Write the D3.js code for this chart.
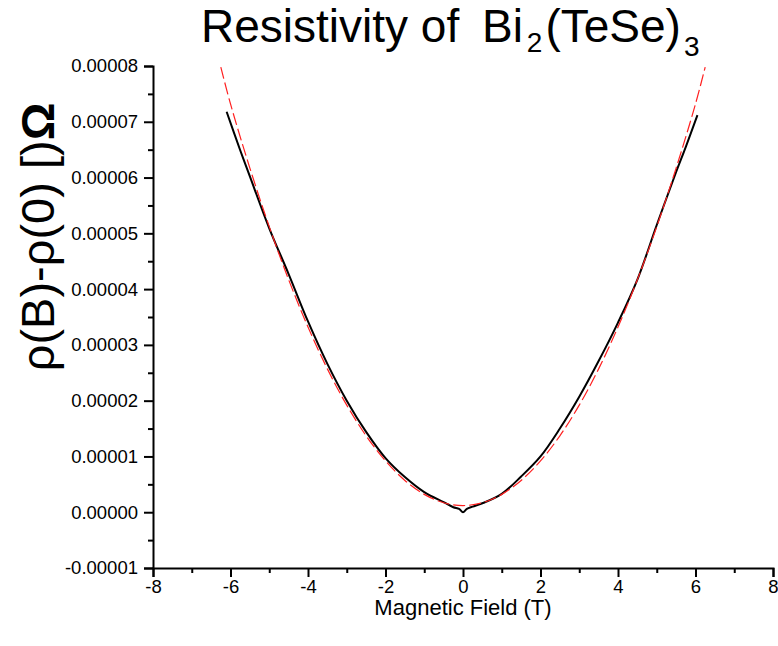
<!DOCTYPE html>
<html>
<head>
<meta charset="utf-8">
<script src="https://cdn.jsdelivr.net/npm/d3@7/dist/d3.min.js"></script>
<style>
  body { margin: 0; background: #fff; }
  text { font-family: "Liberation Sans", Arial, sans-serif; fill: #000; }
</style>
</head>
<body>
<div id="chart-area"></div>
<script>
// measured resistivity (black) : field in T, rho(B)-rho(0) in Ohm
var fieldB = [-6.1, -5.75, -5.5, -5.0, -4.5, -4.0, -3.5, -3.0, -2.5, -2.0, -1.5, -1.0, -0.5, -0.25, -0.1, 0,
              0.1, 0.25, 0.5, 1.0, 1.5, 2.0, 2.5, 3.0, 3.5, 4.0, 4.5, 5.0, 5.5, 5.75, 6.05];
var rhoB = [7.18e-5, 6.49e-5, 6.02e-5, 5.09e-5, 4.27e-5, 3.42e-5, 2.66e-5, 2.00e-5, 1.44e-5, 0.97e-5, 0.63e-5, 0.36e-5, 0.18e-5, 0.09e-5, 0.06e-5, 0.0,
            0.06e-5, 0.10e-5, 0.16e-5, 0.33e-5, 0.64e-5, 1.00e-5, 1.50e-5, 2.07e-5, 2.71e-5, 3.40e-5, 4.17e-5, 5.15e-5, 6.10e-5, 6.55e-5, 7.12e-5];

// fitted curve (red dashed)
var fitB = [-6.25, -6.0, -5.5, -5.0, -4.5, -4.0, -3.5, -3.0, -2.5, -2.0, -1.5, -1.0, -0.5, 0,
            0.5, 1.0, 1.5, 2.0, 2.5, 3.0, 3.5, 4.0, 4.5, 5.0, 5.5, 6.0, 6.25];
var fitRho = [7.98e-5, 7.32e-5, 6.17e-5, 5.12e-5, 4.17e-5, 3.32e-5, 2.57e-5, 1.92e-5, 1.37e-5, 0.92e-5, 0.57e-5, 0.32e-5, 0.17e-5, 0.12e-5,
              0.17e-5, 0.32e-5, 0.57e-5, 0.92e-5, 1.37e-5, 1.92e-5, 2.57e-5, 3.32e-5, 4.17e-5, 5.12e-5, 6.17e-5, 7.32e-5, 7.98e-5];

// ticks
var xTicks = [-8, -6, -4, -2, 0, 2, 4, 6, 8];
var xMinor = [-7, -5, -3, -1, 1, 3, 5, 7];
var yTicks = [-0.00001, 0, 0.00001, 0.00002, 0.00003, 0.00004, 0.00005, 0.00006, 0.00007, 0.00008];
var yMinor = [-0.000005, 0.000005, 0.000015, 0.000025, 0.000035, 0.000045, 0.000055, 0.000065, 0.000075];

var W = 778, H = 646;
var plotLeft = 153, plotRight = 773, plotTop = 66, plotBottom = 568;

var svg = d3.select("#chart-area")
    .append("svg")
    .attr("width", W)
    .attr("height", H);

var x = d3.scaleLinear().domain([-8, 8]).range([plotLeft, plotRight]);
var y = d3.scaleLinear().domain([-0.00001, 0.00008]).range([plotBottom, plotTop]);

var fmt = function (d) { return d3.format(".5f")(d).replace("\u2212", "-"); };

// x axis
svg.append("g")
    .attr("class", "axis")
    .attr("transform", "translate(0," + plotBottom + ")")
    .call(d3.axisBottom(x).tickValues(xTicks).tickSize(9).tickPadding(3)
        .tickFormat(function (d) { return String(d); }));
svg.append("g")
    .attr("transform", "translate(0," + plotBottom + ")")
    .call(d3.axisBottom(x).tickValues(xMinor).tickSize(5).tickFormat(""))
    .select(".domain").remove();

// y axis
svg.append("g")
    .attr("class", "axis")
    .attr("transform", "translate(" + plotLeft + ",0)")
    .call(d3.axisLeft(y).tickValues(yTicks).tickSize(9).tickPadding(6).tickFormat(fmt));
svg.append("g")
    .attr("transform", "translate(" + plotLeft + ",0)")
    .call(d3.axisLeft(y).tickValues(yMinor).tickSize(5).tickFormat(""))
    .select(".domain").remove();

svg.selectAll(".axis").attr("font-size", 18.5).attr("font-family", "Liberation Sans, Arial, sans-serif");
svg.selectAll(".domain").attr("stroke", "#000").attr("stroke-width", 2);
svg.selectAll(".tick line").attr("stroke", "#000").attr("stroke-width", 2);
svg.selectAll(".tick text").attr("fill", "#000");

// curves
var lineFit = d3.line()
    .x(function (d, i) { return x(fitB[i]); })
    .y(function (d) { return y(d); })
    .curve(d3.curveCatmullRom);

var lineData = d3.line()
    .x(function (d, i) { return x(fieldB[i]); })
    .y(function (d) { return y(d); })
    .curve(d3.curveCatmullRom);

svg.append("path")
    .datum(rhoB)
    .attr("d", lineData)
    .attr("fill", "none")
    .attr("stroke", "#000")
    .attr("stroke-width", 2);

svg.append("path")
    .datum(fitRho)
    .attr("d", lineFit)
    .attr("fill", "none")
    .attr("stroke", "#ff2020")
    .attr("stroke-width", 1.2)
    .attr("stroke-dasharray", "12,4");

// title
var title = svg.append("text")
    .attr("x", 201)
    .attr("y", 42)
    .attr("font-size", "46px");
title.append("tspan").text("Resistivity of ");
title.append("tspan").attr("dx", 10).text("Bi");
title.append("tspan").attr("font-size", "28px").attr("dx", 4).attr("dy", 10).text("2");
title.append("tspan").attr("dx", 3).attr("dy", -10).text("(TeSe)");
title.append("tspan").attr("font-size", "28px").attr("dx", 3).attr("dy", 14).text("3");

// axis labels
svg.append("text")
    .attr("x", 463)
    .attr("y", 615)
    .attr("text-anchor", "middle")
    .attr("font-size", "22px")
    .text("Magnetic Field (T)");

var yLabel = svg.append("text")
    .attr("transform", "translate(54,237) rotate(-90)")
    .attr("text-anchor", "middle")
    .attr("font-size", "47px");
yLabel.append("tspan").text("\u03c1(B)-\u03c1(0) [)");
yLabel.append("tspan").attr("font-weight", "bold").text("\u03a9");
</script>
</body>
</html>
